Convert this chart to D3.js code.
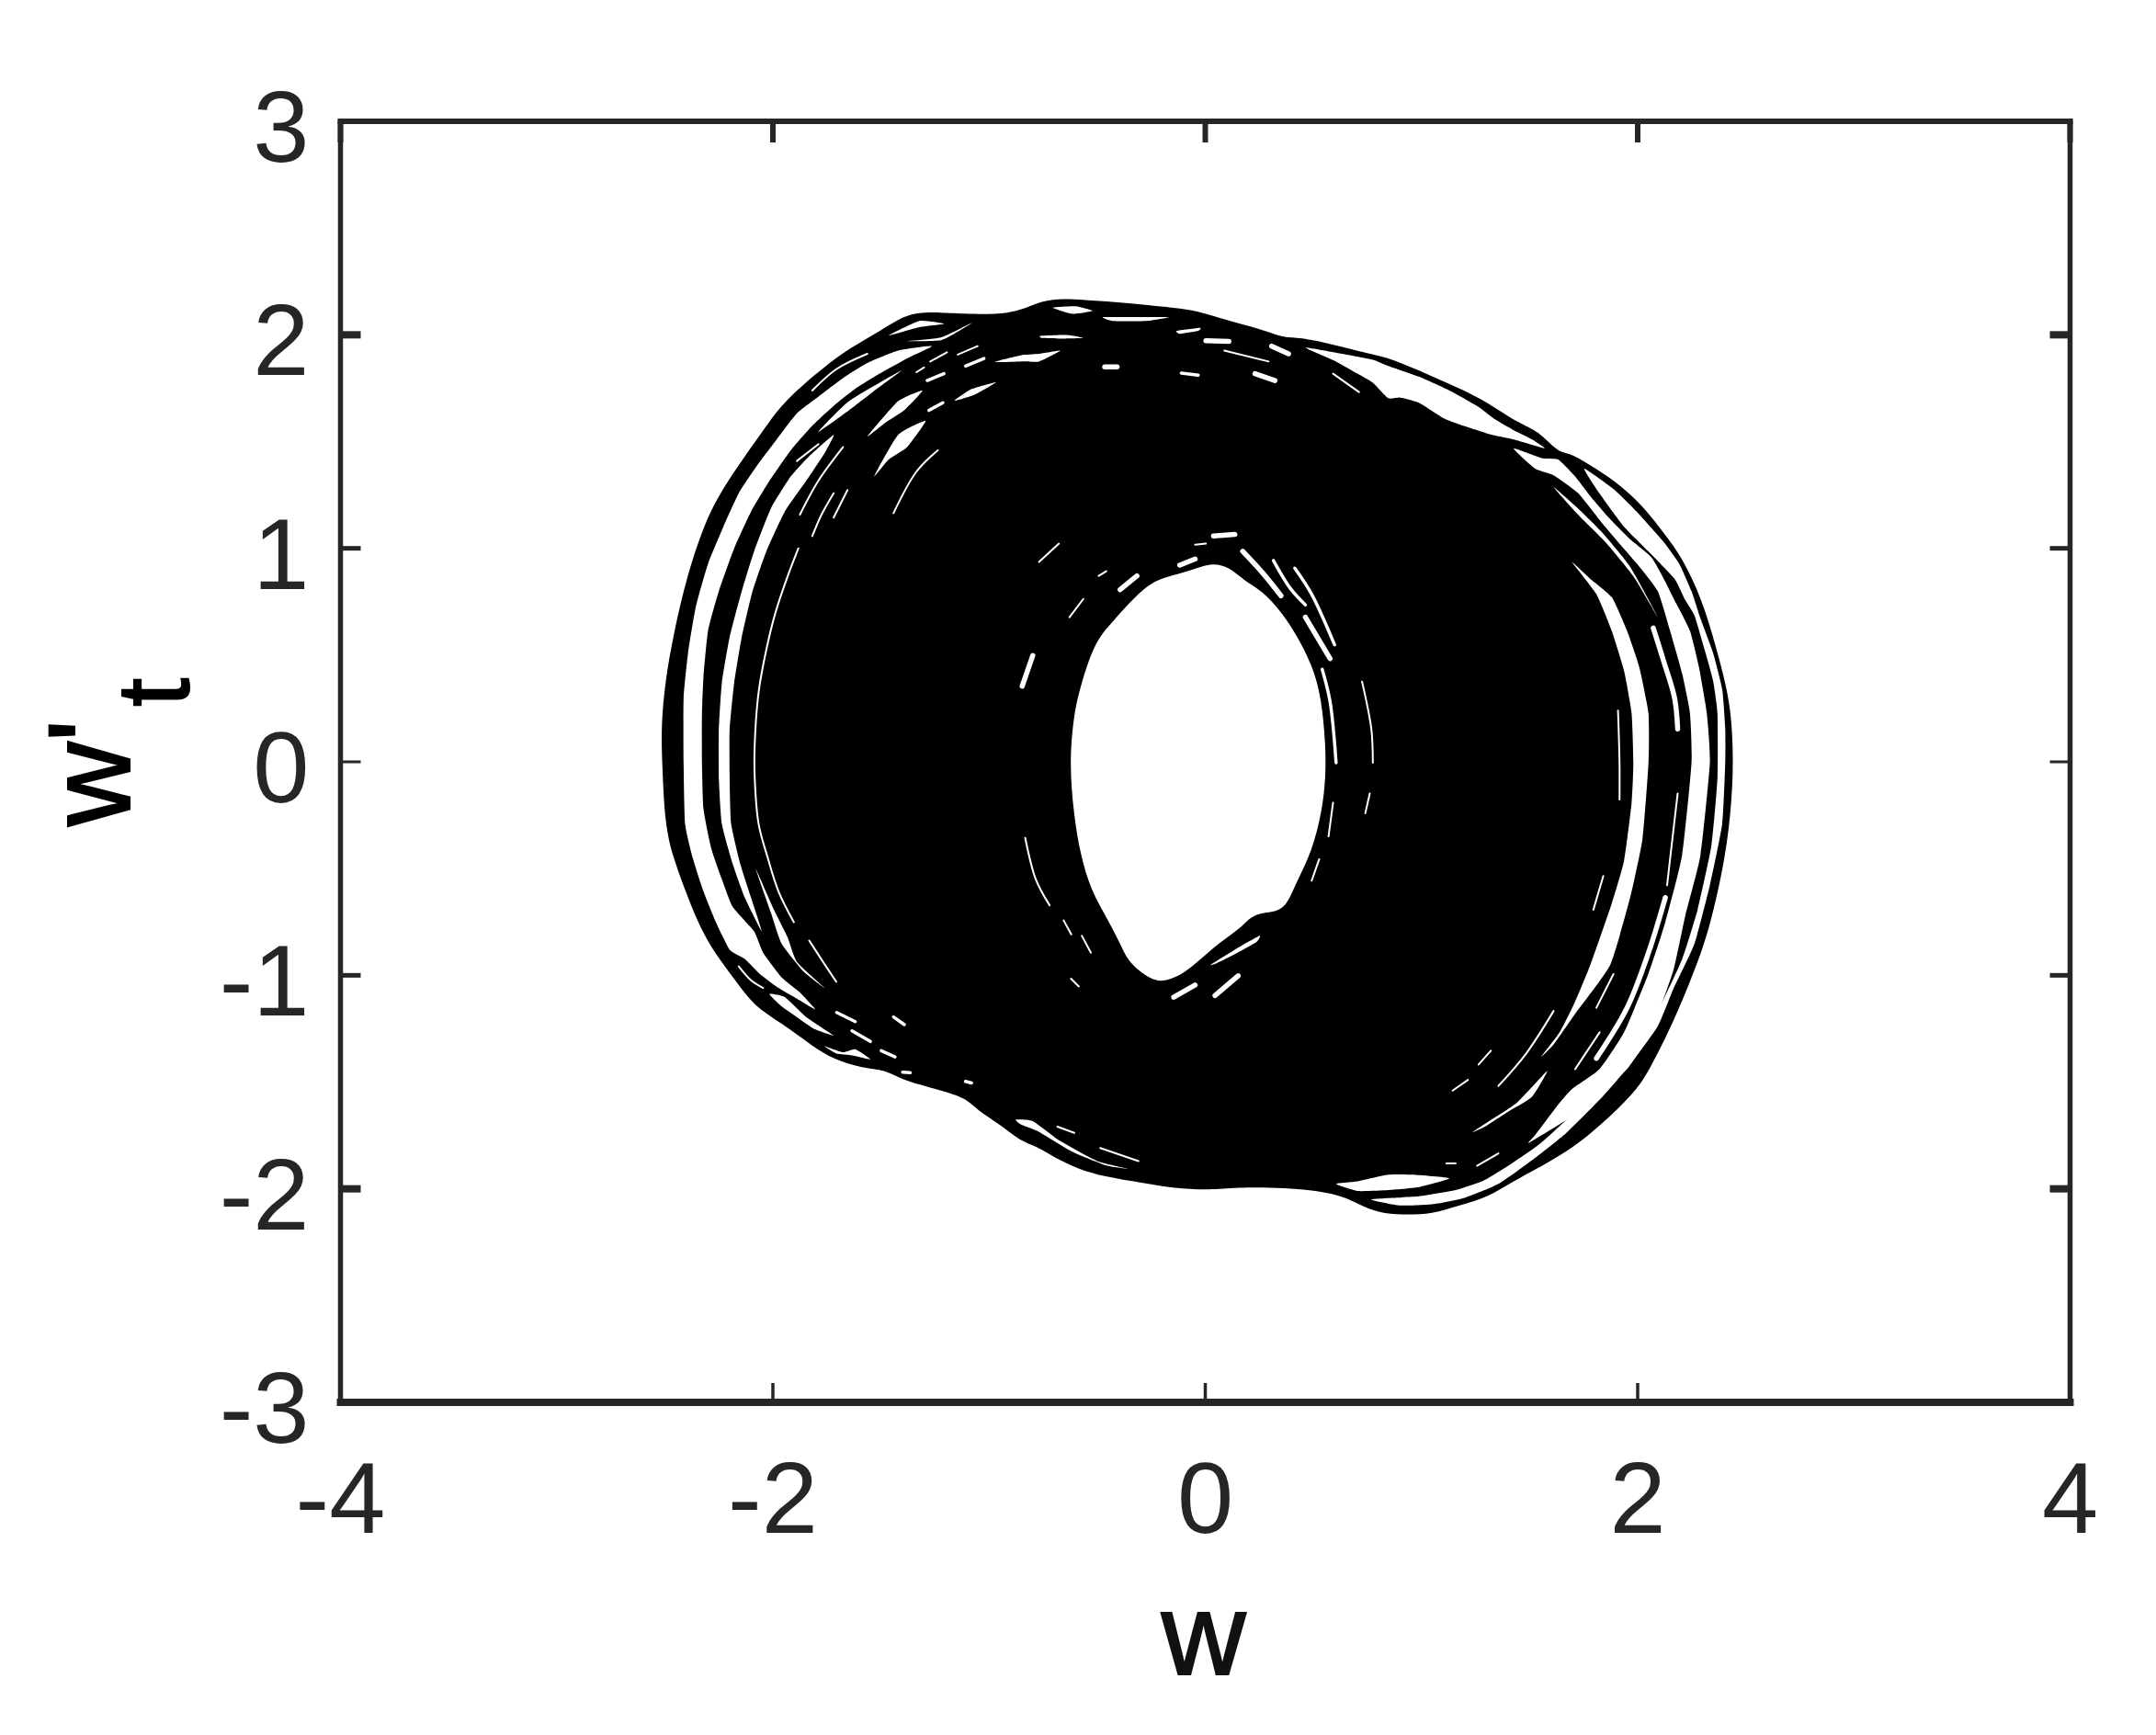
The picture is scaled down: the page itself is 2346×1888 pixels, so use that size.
<!DOCTYPE html>
<html><head><meta charset="utf-8">
<script src="https://cdn.jsdelivr.net/npm/d3@7/dist/d3.min.js"></script>
<style>html,body{margin:0;padding:0;background:#fff}svg{display:block}</style>
</head><body><div id="chart"></div>
<script>
const xTicks=[-4,-2,0,2,4];
const yTicks=[-3,-2,-1,0,1,2,3];
const xLabel="w";
const yLabelMain="w'";
const yLabelSub="t";

// Outer silhouette of the phase-portrait trajectory (w, w't)
const outerEnvelope=[[-2.512,-0.004],[-2.5,-0.293],[-2.461,-0.448],[-2.415,-0.577],[-2.342,-0.766],[-2.27,-0.895],[-2.172,-1.025],[-2.087,-1.145],[-1.96,-1.223],[-1.819,-1.33],[-1.717,-1.395],[-1.59,-1.434],[-1.479,-1.442],[-1.407,-1.49],[-1.195,-1.545],[-1.101,-1.58],[-1.054,-1.632],[-0.952,-1.696],[-0.854,-1.778],[-0.782,-1.799],[-0.697,-1.855],[-0.587,-1.907],[-0.472,-1.942],[-0.289,-1.972],[-0.145,-1.998],[0.026,-2.006],[0.136,-1.993],[0.366,-1.993],[0.604,-2.019],[0.706,-2.071],[0.803,-2.114],[0.918,-2.122],[1.05,-2.118],[1.173,-2.079],[1.314,-2.036],[1.411,-1.972],[1.569,-1.886],[1.696,-1.812],[1.836,-1.696],[1.981,-1.554],[2.049,-1.455],[2.164,-1.223],[2.262,-0.982],[2.334,-0.779],[2.406,-0.448],[2.432,-0.22],[2.444,-0.004],[2.432,0.254],[2.389,0.439],[2.334,0.641],[2.279,0.801],[2.206,0.956],[2.121,1.072],[2.023,1.201],[1.896,1.317],[1.751,1.408],[1.683,1.446],[1.632,1.451],[1.556,1.533],[1.496,1.567],[1.411,1.61],[1.271,1.705],[1.131,1.769],[0.986,1.834],[0.846,1.894],[0.706,1.924],[0.561,1.963],[0.421,1.989],[0.366,1.985],[0.281,2.019],[0.136,2.058],[0.051,2.084],[-0.06,2.118],[-0.187,2.131],[-0.344,2.148],[-0.57,2.165],[-0.714,2.17],[-0.799,2.14],[-0.897,2.097],[-1.11,2.097],[-1.224,2.105],[-1.335,2.105],[-1.42,2.075],[-1.535,1.998],[-1.675,1.92],[-1.802,1.817],[-1.96,1.675],[-2.032,1.57],[-2.117,1.45],[-2.228,1.287],[-2.313,1.128],[-2.398,0.87],[-2.457,0.611],[-2.5,0.37],[-2.517,0.155]];

// White central hole
const innerHole=[[-0.629,-0.004],[-0.608,0.224],[-0.578,0.353],[-0.514,0.555],[-0.442,0.641],[-0.357,0.74],[-0.259,0.835],[-0.187,0.865],[-0.077,0.891],[0.026,0.934],[0.111,0.913],[0.179,0.848],[0.264,0.801],[0.349,0.706],[0.421,0.598],[0.493,0.456],[0.536,0.31],[0.557,0.082],[0.557,-0.077],[0.54,-0.232],[0.493,-0.422],[0.421,-0.564],[0.378,-0.672],[0.323,-0.706],[0.221,-0.71],[0.166,-0.779],[0.068,-0.844],[-0.017,-0.921],[-0.102,-0.994],[-0.187,-1.029],[-0.247,-1.025],[-0.353,-0.943],[-0.387,-0.865],[-0.459,-0.723],[-0.527,-0.607],[-0.578,-0.435],[-0.608,-0.25]];

// White crescents between the outermost loops
const leftGapOuter=[[-1.265,1.947],[-1.421,1.926],[-1.563,1.868],[-1.676,1.797],[-1.79,1.71],[-1.889,1.632],[-1.988,1.502],[-2.073,1.388],[-2.158,1.258],[-2.229,1.101],[-2.3,0.928],[-2.356,0.728],[-2.392,0.512],[-2.413,0.297],[-2.413,-0.004],[-2.406,-0.291],[-2.371,-0.449],[-2.321,-0.607],[-2.264,-0.75],[-2.2,-0.88],[-2.13,-0.923],[-2.059,-0.995],[-1.974,-1.059],[-1.889,-1.109],[-1.804,-1.159],[-1.875,-1.08],[-1.96,-1.009],[-2.045,-0.894],[-2.087,-0.794],[-2.186,-0.679],[-2.236,-0.55],[-2.285,-0.406],[-2.321,-0.22],[-2.328,-0.004],[-2.328,0.225],[-2.321,0.397],[-2.3,0.613],[-2.25,0.799],[-2.179,1.0],[-2.101,1.172],[-2.016,1.316],[-1.917,1.459],[-1.818,1.574],[-1.719,1.667],[-1.62,1.746],[-1.506,1.818],[-1.379,1.89]];
const leftGapSecond=[[-1.719,1.531],[-1.832,1.431],[-1.917,1.337],[-2.009,1.187],[-2.087,0.986],[-2.144,0.799],[-2.2,0.584],[-2.236,0.369],[-2.25,0.154],[-2.25,-0.076],[-2.236,-0.291],[-2.186,-0.478],[-2.13,-0.636],[-2.052,-0.793],[-2.101,-0.636],[-2.151,-0.478],[-2.193,-0.291],[-2.2,-0.076],[-2.2,0.154],[-2.179,0.369],[-2.144,0.584],[-2.094,0.799],[-2.03,0.986],[-1.945,1.172],[-1.846,1.316],[-1.761,1.445]];
const leftGapLower=[[-2.08,-0.499],[-2.009,-0.707],[-1.96,-0.851],[-1.86,-0.98],[-1.761,-1.059],[-1.889,-0.937],[-1.932,-0.822],[-1.995,-0.693]];
const lowerLeftLens=[[-2.016,-1.088],[-1.945,-1.102],[-1.846,-1.195],[-1.719,-1.282],[-1.805,-1.253],[-1.89,-1.195],[-1.96,-1.145]];
const lowerLeftLens2=[[-1.761,-1.332],[-1.676,-1.36],[-1.619,-1.346],[-1.549,-1.393],[-1.634,-1.375],[-1.704,-1.367]];
const rightGapTop=[[0.463,1.94],[0.633,1.911],[0.775,1.883],[0.846,1.854],[0.988,1.804],[1.129,1.739],[1.257,1.667],[1.342,1.603],[1.427,1.553],[1.512,1.51],[1.569,1.469],[1.427,1.51],[1.328,1.531],[1.174,1.581],[1.101,1.61],[0.988,1.682],[0.902,1.706],[0.846,1.703],[0.775,1.775],[0.704,1.818],[0.605,1.875]];
const rightGapOuter=[[1.753,1.373],[1.894,1.273],[2.008,1.158],[2.121,1.029],[2.192,0.928],[2.249,0.799],[2.291,0.67],[2.348,0.512],[2.391,0.34],[2.405,0.154],[2.405,-0.004],[2.391,-0.291],[2.334,-0.578],[2.263,-0.851],[2.164,-1.066],[2.093,-1.238],[1.965,-1.418],[1.838,-1.568],[1.668,-1.74],[1.526,-1.855],[1.356,-1.977],[1.2,-2.042],[1.058,-2.071],[0.902,-2.078],[0.768,-2.049],[0.988,-2.035],[1.158,-2.006],[1.285,-1.963],[1.413,-1.884],[1.554,-1.784],[1.724,-1.626],[1.866,-1.482],[2.022,-1.296],[2.121,-1.109],[2.206,-0.923],[2.277,-0.693],[2.341,-0.392],[2.369,-0.076],[2.369,0.225],[2.348,0.383],[2.305,0.541],[2.263,0.684],[2.221,0.756],[2.171,0.857],[2.064,0.971],[1.937,1.101],[1.823,1.258]];
const rightGapSecond=[[1.427,1.467],[1.554,1.423],[1.632,1.416],[1.71,1.337],[1.781,1.244],[1.866,1.144],[1.965,1.043],[2.064,0.957],[2.121,0.857],[2.178,0.742],[2.242,0.613],[2.284,0.441],[2.32,0.225],[2.334,-0.004],[2.291,-0.435],[2.22,-0.722],[2.164,-0.98],[2.065,-1.253],[1.951,-1.439],[1.824,-1.54],[1.682,-1.669],[1.498,-1.784],[1.526,-1.748],[1.639,-1.597],[1.696,-1.533],[1.824,-1.439],[1.937,-1.267],[2.049,-0.994],[2.128,-0.75],[2.206,-0.435],[2.249,-0.004],[2.242,0.225],[2.206,0.412],[2.15,0.613],[2.093,0.799],[2.008,0.914],[1.923,1.014],[1.838,1.115],[1.725,1.258],[1.611,1.342],[1.526,1.373]];
const rightLens=[[1.611,1.287],[1.724,1.187],[1.838,1.072],[1.965,0.914],[2.093,0.677],[1.979,0.871],[1.851,1.029],[1.724,1.158]];
const rightGapInner=[[1.696,0.936],[1.809,0.785],[1.88,0.613],[1.937,0.426],[1.972,0.225],[1.98,-0.004],[1.972,-0.191],[1.937,-0.463],[1.88,-0.664],[1.781,-0.951],[1.71,-1.124],[1.639,-1.267],[1.554,-1.382],[1.611,-1.324],[1.71,-1.181],[1.873,-0.951],[1.965,-0.636],[2.022,-0.363],[2.05,-0.004],[2.05,0.225],[2.008,0.441],[1.951,0.613],[1.88,0.771],[1.781,0.857]];
const lowerRightLens=[[1.237,-1.734],[1.313,-1.683],[1.441,-1.597],[1.582,-1.447],[1.511,-1.569],[1.399,-1.64],[1.3,-1.705]];
const bottomLens=[[0.605,-1.977],[0.704,-1.965],[0.846,-1.934],[0.959,-1.934],[1.129,-1.951],[0.988,-1.992],[0.846,-2.006],[0.704,-2.01]];
const bottomLeftLens=[[-0.876,-1.676],[-0.798,-1.683],[-0.67,-1.777],[-0.5,-1.87],[-0.358,-1.906],[-0.457,-1.891],[-0.613,-1.827],[-0.769,-1.733],[-0.854,-1.698]];
const holeLowerLens=[[0.024,-0.951],[0.137,-0.88],[0.251,-0.815],[0.237,-0.844],[0.137,-0.901],[0.052,-0.944]];
const topLens=[[[-1.464,1.997],[-1.322,2.065],[-1.209,2.051],[-1.322,2.036]],[[-1.379,1.97],[-1.223,1.987],[-1.081,2.055],[-1.138,2.019],[-1.223,1.975]],[[-1.79,1.545],[-1.648,1.689],[-1.407,1.832],[-1.52,1.746],[-1.648,1.646]],[[-1.563,1.524],[-1.421,1.689],[-1.308,1.739],[-1.393,1.646],[-1.478,1.589]],[[-1.532,1.337],[-1.421,1.531],[-1.294,1.596],[-1.379,1.474],[-1.464,1.416]],[[-1.159,1.692],[-1.081,1.746],[-0.968,1.778],[-1.067,1.72]],[[-0.975,1.873],[-0.854,1.875],[-0.769,1.875],[-0.67,1.926],[-0.769,1.911],[-0.854,1.904]],[[-0.706,2.127],[-0.6,2.134],[-0.521,2.112],[-0.615,2.098]],[[-0.472,2.083],[-0.288,2.083],[-0.167,2.083],[-0.273,2.065],[-0.429,2.065]],[[-0.132,2.019],[-0.025,2.033],[-0.033,2.019],[-0.118,2.005]],[[-0.762,1.995],[-0.642,1.999],[-0.564,1.985],[-0.67,1.982],[-0.755,1.985]]];

// Narrow uncovered slivers, grouped by apparent thickness
const thinGaps=[[[-1.882,1.0],[-1.931,0.871],[-1.988,0.699],[-2.03,0.527],[-2.066,0.326],[-2.084,0.082],[-2.084,-0.076],[-2.066,-0.291],[-2.024,-0.449],[-1.974,-0.607],[-1.903,-0.751]],[[-1.832,-0.837],[-1.768,-0.937],[-1.707,-1.03]],[[-2.158,-0.958],[-2.101,-1.023],[-2.045,-1.059]],[[-1.818,1.739],[-1.705,1.84],[-1.563,1.911]],[[-1.442,1.165],[-1.336,1.359],[-1.237,1.459]],[[-1.875,1.158],[-1.79,1.316],[-1.676,1.474]],[[-1.889,1.409],[-1.789,1.488]],[[-1.818,1.057],[-1.775,1.158],[-1.719,1.258]],[[-1.719,1.144],[-1.655,1.273]],[[-1.336,1.825],[-1.301,1.847]],[[-1.272,1.875],[-1.195,1.918]],[[-1.145,1.907],[-1.053,1.947]],[[0.088,1.926],[0.293,1.875]],[[0.591,1.818],[0.711,1.732]],[[2.185,-0.148],[2.157,-0.392],[2.136,-0.578]],[[1.909,0.24],[1.916,-0.004],[1.916,-0.177]],[[1.795,-0.693],[1.841,-0.535]],[[1.356,-1.518],[1.483,-1.368],[1.611,-1.167]],[[1.144,-1.54],[1.215,-1.49]],[[1.264,-1.418],[1.321,-1.353]],[[1.257,-1.892],[1.356,-1.834]],[[1.711,-1.439],[1.824,-1.267]],[[1.809,-1.152],[1.888,-0.994]],[[1.115,-1.881],[1.158,-1.881]],[[-0.486,-1.809],[-0.309,-1.87]],[[-0.684,-1.709],[-0.606,-1.738]],[[-0.833,-0.356],[-0.784,-0.55],[-0.72,-0.672]],[[-0.621,-1.016],[-0.585,-1.052]],[[-0.655,-0.743],[-0.62,-0.808]],[[-0.571,-0.815],[-0.529,-0.894]],[[0.74,-0.241],[0.761,-0.148]],[[0.492,-0.557],[0.527,-0.456]],[[0.57,-0.349],[0.591,-0.191]],[[0.725,0.376],[0.768,0.154],[0.775,-0.004]],[[-0.769,0.936],[-0.677,1.022]],[[-0.628,0.677],[-0.564,0.763]],[[-0.493,0.871],[-0.458,0.893]],[[-0.047,1.017],[0.003,1.022]]];
const mediumGaps=[[[-1.705,-1.174],[-1.619,-1.217]],[[-1.634,-1.26],[-1.549,-1.31]],[[-1.442,-1.195],[-1.392,-1.231]],[[-1.499,-1.353],[-1.435,-1.382]],[[-1.4,-1.454],[-1.365,-1.456]],[[-1.109,-1.497],[-1.081,-1.504]],[[-1.286,1.786],[-1.209,1.818]],[[-1.109,1.854],[-1.024,1.889]],[[-1.278,1.646],[-1.214,1.682]],[[-0.111,1.821],[-0.033,1.811]],[[0.315,0.943],[0.392,0.814],[0.463,0.735]],[[0.414,0.907],[0.492,0.785],[0.598,0.548]],[[0.541,0.433],[0.577,0.283],[0.605,-0.004]]];
const wideGaps=[[[2.072,0.627],[2.121,0.469],[2.171,0.297],[2.185,0.154]],[[2.128,-0.636],[2.05,-0.894],[1.951,-1.152],[1.809,-1.389]],[[-0.146,-1.102],[-0.047,-1.045]],[[0.045,-1.095],[0.152,-1.002]],[[0.173,0.986],[0.265,0.885],[0.35,0.778]],[[0.463,0.677],[0.577,0.484]],[[0.038,1.058],[0.137,1.065]],[[-0.118,0.921],[-0.047,0.95]],[[-0.394,0.806],[-0.316,0.871]],[[-0.847,0.354],[-0.798,0.498]],[[0.003,1.972],[0.109,1.969]],[[0.307,1.947],[0.385,1.911]],[[-0.465,1.85],[-0.408,1.85]],[[0.23,1.818],[0.322,1.786]]];

const gapAreas=[leftGapOuter,leftGapSecond,leftGapLower,lowerLeftLens,lowerLeftLens2,rightGapTop,rightGapOuter,rightGapSecond,rightLens,rightGapInner,lowerRightLens,bottomLens,bottomLeftLens,holeLowerLens,...topLens];

(function(){
const W=2346,H=1888;
const box={left:370.5,right:2252.5,top:132,bottom:1526};
const x=d3.scaleLinear().domain([-4,4]).range([box.left,box.right]);
const y=d3.scaleLinear().domain([-3,3]).range([box.bottom,box.top]);
const svg=d3.select("#chart").append("svg").attr("width",W).attr("height",H).style("background","#fff");

const smoothRing=d3.line().x(d=>x(d[0])).y(d=>y(d[1])).curve(d3.curveBasisClosed);
const gapRing=d3.line().x(d=>x(d[0])).y(d=>y(d[1])).curve(d3.curveCardinalClosed.tension(0.5));
const openPath=d3.line().x(d=>x(d[0])).y(d=>y(d[1])).curve(d3.curveCatmullRom.alpha(0.5));

svg.append("path").attr("class","trajectory").attr("fill","#000").attr("fill-rule","evenodd")
  .attr("d",smoothRing(outerEnvelope)+smoothRing(innerHole));
svg.append("g").selectAll("path").data(gapAreas).join("path").attr("fill","#fff").attr("d",d=>gapRing(d));
[[thinGaps,2],[mediumGaps,3.5],[wideGaps,5.5]].forEach(([set,w])=>{
  svg.append("g").selectAll("path").data(set).join("path").attr("fill","none").attr("stroke","#fff")
    .attr("stroke-width",w).attr("stroke-linecap","round").attr("d",d=>openPath(d));
});

const ink="#262626", font="'Liberation Sans',Arial,sans-serif";
function style(g,domainW,tickW){
  g.select(".domain").attr("stroke",ink).attr("stroke-width",domainW).attr("stroke-linecap","square");
  g.selectAll(".tick line").attr("stroke",ink).attr("stroke-width",tickW);
  g.selectAll("text").attr("fill",ink).style("font-family",font).style("font-size","110px");
}
const yTickW=d=>({2:8,"-2":8,1:5,"-1":5,0:3,3:0,"-3":0})[d];
const gBottom=svg.append("g").attr("transform",`translate(0,${box.bottom})`)
  .call(d3.axisBottom(x).tickValues(xTicks).tickFormat(String).tickSize(-21).tickSizeOuter(0).offset(0));
style(gBottom,8,3.5);
gBottom.selectAll("text").attr("y",142).attr("dy",0).attr("text-anchor","middle");
const gTop=svg.append("g").attr("transform",`translate(0,${box.top})`)
  .call(d3.axisTop(x).tickValues(xTicks).tickFormat("").tickSize(-23).tickSizeOuter(0).offset(0));
style(gTop,6,6);
const gLeft=svg.append("g").attr("transform",`translate(${box.left},0)`)
  .call(d3.axisLeft(y).tickValues(yTicks).tickFormat(String).tickSize(-22).tickSizeOuter(0).offset(0));
style(gLeft,5.5,3);
gLeft.selectAll(".tick line").attr("stroke-width",yTickW);
gLeft.selectAll("text").attr("x",-34).attr("y",44).attr("dy",0).attr("text-anchor","end");
const gRight=svg.append("g").attr("transform",`translate(${box.right},0)`)
  .call(d3.axisRight(y).tickValues(yTicks).tickFormat("").tickSize(-22).tickSizeOuter(0).offset(0));
style(gRight,5.5,3);
gRight.selectAll(".tick line").attr("stroke-width",yTickW);

svg.append("text").attr("x",x(0)-2).attr("y",1822).attr("text-anchor","middle")
  .style("font-family",font).style("font-size","127px").attr("fill","#111").attr("stroke","#111").attr("stroke-width",2).text(xLabel);
const yl=svg.append("text").attr("transform","translate(141,899) rotate(-90)")
  .style("font-family",font).style("font-size","127px").attr("fill","#000").attr("stroke","#000").attr("stroke-width",2);
yl.append("tspan").text(yLabelMain);
yl.append("tspan").attr("dy",64).attr("dx",14).style("font-size","112px").text(yLabelSub);
})();
</script></body></html>
